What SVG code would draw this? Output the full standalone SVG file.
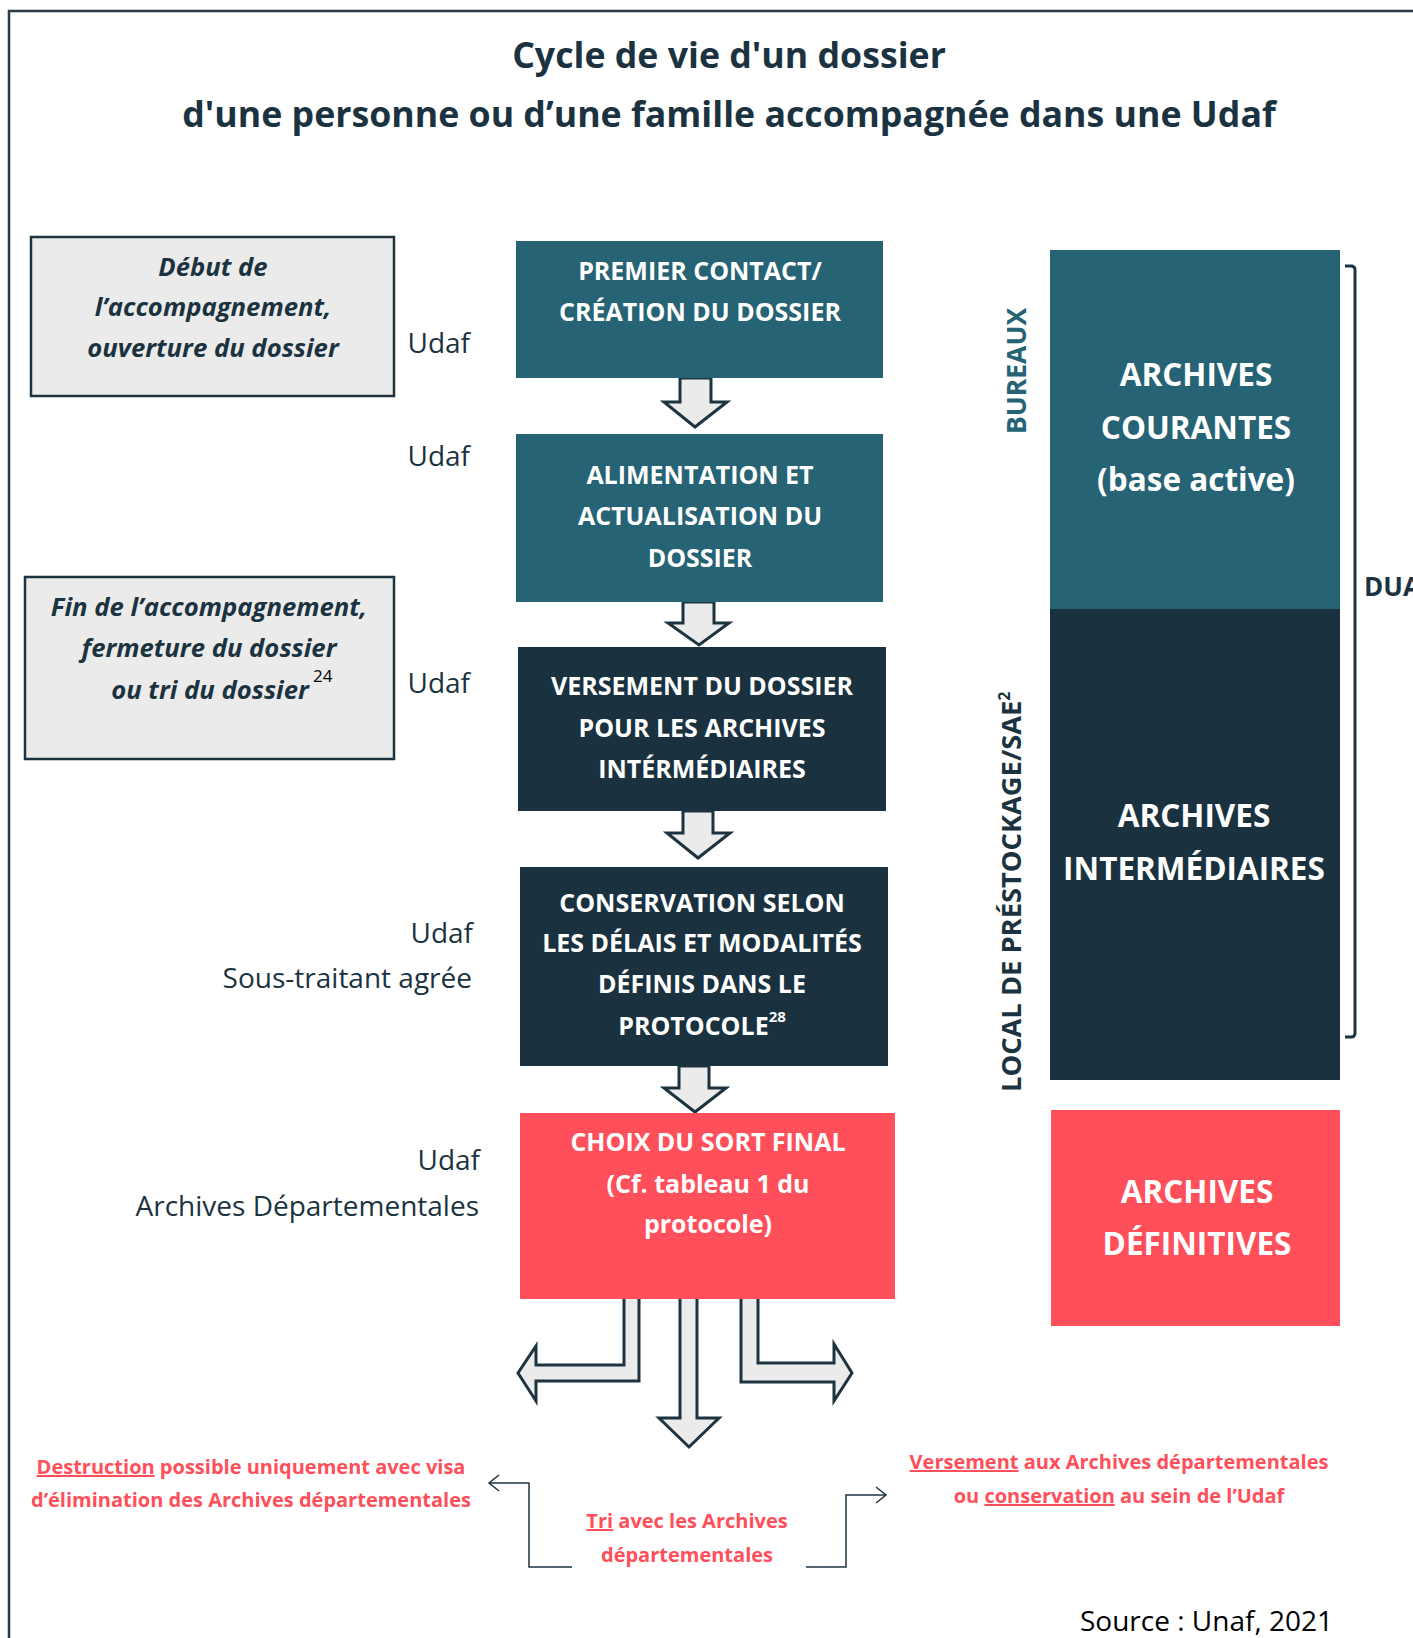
<svg xmlns="http://www.w3.org/2000/svg" width="1413" height="1638" viewBox="0 0 1413 1638">
<defs>
<style>
text{font-family:"Open Sans","Noto Sans","Liberation Sans",sans-serif}
.title{font-size:35.7px;font-weight:700;fill:#1b3340;text-anchor:middle}
.side{font-size:25.7px;font-weight:700;font-style:italic;fill:#1b3340;text-anchor:middle}
.who{font-size:28px;fill:#1b3340;text-anchor:end}
.box{font-size:25px;font-weight:700;fill:#ffffff;text-anchor:middle}
.big{font-size:31.5px;font-weight:700;fill:#ffffff;text-anchor:middle}
.vert{font-size:26.5px;font-weight:700}
.red{font-size:20px;font-weight:700;fill:#ff4f5a;text-anchor:middle}
.arrow{fill:#ebebeb;stroke:#1d3340;stroke-width:3;stroke-linejoin:miter}
.thin{fill:none;stroke:#1d3340;stroke-width:1.5}
.teal{fill:#266374}
.navy{fill:#1a3240}
.coral{fill:#ff4f5a}
.grey{fill:#ebebeb;stroke:#1d3340;stroke-width:2.5}
</style>
<marker id="chev" markerUnits="userSpaceOnUse" markerWidth="14" markerHeight="20" refX="11" refY="9" orient="auto">
<path d="M1,1 L11,9 L1,17" fill="none" stroke="#1d3340" stroke-width="1.5"/>
</marker>
</defs>
<rect x="0" y="0" width="1413" height="1638" fill="#ffffff"/>
<path d="M9,1638 V11 H1413" fill="none" stroke="#2b3b47" stroke-width="2.5"/>

<g id="title">
<text class="title" x="729" y="68">Cycle de vie d'un dossier</text>
<text class="title" x="729" y="127">d'une personne ou d’une famille accompagnée dans une Udaf</text>
</g>

<g id="connectors">
<polygon class="arrow" points="680,378 711,378 711,402 727,402 695,427 664,402 680,402"/>
<polygon class="arrow" points="683,602 714,602 714,623 729,623 699,645 668,623 683,623"/>
<polygon class="arrow" points="683,811 713,811 713,833 730,833 698,858 667,833 683,833"/>
<polygon class="arrow" points="679,1066 709,1066 709,1088 726,1088 695,1112 664,1088 679,1088"/>
<polygon class="arrow" points="624,1296 639,1296 639,1381 536,1381 536,1401 518,1373 536,1346 536,1365 624,1365"/>
<polygon class="arrow" points="680,1296 697,1296 697,1418 719,1418 689,1447 659,1418 680,1418"/>
<polygon class="arrow" points="741,1296 758,1296 758,1363 834,1363 834,1344 852,1373 834,1401 834,1382 741,1382"/>
<polyline class="thin" points="572,1567 529,1567 529,1483 489,1483" marker-end="url(#chev)"/>
<polyline class="thin" points="806,1567 846,1567 846,1495 886,1495" marker-end="url(#chev)"/>
<path d="M1345,266 H1351 Q1355,266 1355,270 V1033 Q1355,1037 1351,1037 H1345" fill="none" stroke="#1d3340" stroke-width="3"/>
</g>

<g id="debut">
<rect class="grey" x="31" y="237" width="363" height="159"/>
<text class="side" x="213" y="276">Début de</text>
<text class="side" x="213" y="316">l’accompagnement,</text>
<text class="side" x="213" y="357">ouverture du dossier</text>
</g>

<g id="fin">
<rect class="grey" x="25" y="577" width="369" height="182"/>
<text class="side" x="209" y="616">Fin de l’accompagnement,</text>
<text class="side" x="209" y="657">fermeture du dossier</text>
<text class="side" x="210" y="699">ou tri du dossier</text>
<text x="313" y="682" style="font-size:17px;fill:#000">24</text>
</g>

<g id="acteurs">
<text class="who" x="470" y="353">Udaf</text>
<text class="who" x="470" y="466">Udaf</text>
<text class="who" x="470" y="693">Udaf</text>
<text class="who" x="473" y="943">Udaf</text>
<text class="who" x="472" y="988">Sous-traitant agrée</text>
<text class="who" x="480" y="1170">Udaf</text>
<text class="who" x="479" y="1216">Archives Départementales</text>
</g>

<g id="premier-contact">
<rect class="teal" x="516" y="241" width="367" height="137"/>
<text class="box" x="700" y="280">PREMIER CONTACT/</text>
<text class="box" x="700" y="321">CRÉATION DU DOSSIER</text>
</g>

<g id="alimentation">
<rect class="teal" x="516" y="434" width="367" height="168"/>
<text class="box" x="700" y="484">ALIMENTATION ET</text>
<text class="box" x="700" y="525">ACTUALISATION DU</text>
<text class="box" x="700" y="567">DOSSIER</text>
</g>

<g id="versement">
<rect class="navy" x="518" y="647" width="368" height="164"/>
<text class="box" x="702" y="695">VERSEMENT DU DOSSIER</text>
<text class="box" x="702" y="737">POUR LES ARCHIVES</text>
<text class="box" x="702" y="778">INTÉRMÉDIAIRES</text>
</g>

<g id="conservation">
<rect class="navy" x="520" y="867" width="368" height="199"/>
<text class="box" x="702" y="912">CONSERVATION SELON</text>
<text class="box" x="702" y="952">LES DÉLAIS ET MODALITÉS</text>
<text class="box" x="702" y="993">DÉFINIS DANS LE</text>
<text class="box" x="702" y="1035">PROTOCOLE<tspan dy="-13" style="font-size:15px">28</tspan></text>
</g>

<g id="choix">
<rect class="coral" x="520" y="1113" width="375" height="186"/>
<text class="box" x="708" y="1151">CHOIX DU SORT FINAL</text>
<text class="box" x="708" y="1193">(Cf. tableau 1 du</text>
<text class="box" x="708" y="1233">protocole)</text>
</g>

<g id="archives-courantes">
<rect class="teal" x="1050" y="250" width="290" height="360"/>
<text class="big" x="1196" y="386">ARCHIVES</text>
<text class="big" x="1196" y="439">COURANTES</text>
<text class="big" x="1196" y="491">(base active)</text>
</g>

<g id="archives-intermediaires">
<rect class="navy" x="1050" y="609" width="290" height="471"/>
<text class="big" x="1194" y="827">ARCHIVES</text>
<text class="big" x="1194" y="880">INTERMÉDIAIRES</text>
</g>

<g id="archives-definitives">
<rect class="coral" x="1051" y="1110" width="289" height="216"/>
<text class="big" x="1197" y="1203">ARCHIVES</text>
<text class="big" x="1197" y="1255">DÉFINITIVES</text>
</g>

<g id="lieux">
<text class="vert" transform="translate(1026,371) rotate(-90)" text-anchor="middle" fill="#266374">BUREAUX</text>
<text class="vert" transform="translate(1021,1092) rotate(-90)" fill="#1b3340" style="font-size:27.3px">LOCAL DE PRÉSTOCKAGE/SAE<tspan dy="-11" style="font-size:16px">2</tspan></text>
</g>

<g id="dua">
<text x="1364" y="596" style="font-size:26px;font-weight:700;fill:#1b3340">DUA</text>
</g>

<g id="sorts">
<text class="red" x="251" y="1474"><tspan text-decoration="underline">Destruction</tspan> possible uniquement avec visa</text>
<text class="red" x="251" y="1507">d’élimination des Archives départementales</text>
<text class="red" x="687" y="1528"><tspan text-decoration="underline">Tri</tspan> avec les Archives</text>
<text class="red" x="687" y="1562">départementales</text>
<text class="red" x="1119" y="1469"><tspan text-decoration="underline">Versement</tspan> aux Archives départementales</text>
<text class="red" x="1119" y="1503">ou <tspan text-decoration="underline">conservation</tspan> au sein de l’Udaf</text>
</g>

<text x="1080" y="1631" style="font-size:28px;fill:#000">Source : Unaf, 2021</text>
</svg>
